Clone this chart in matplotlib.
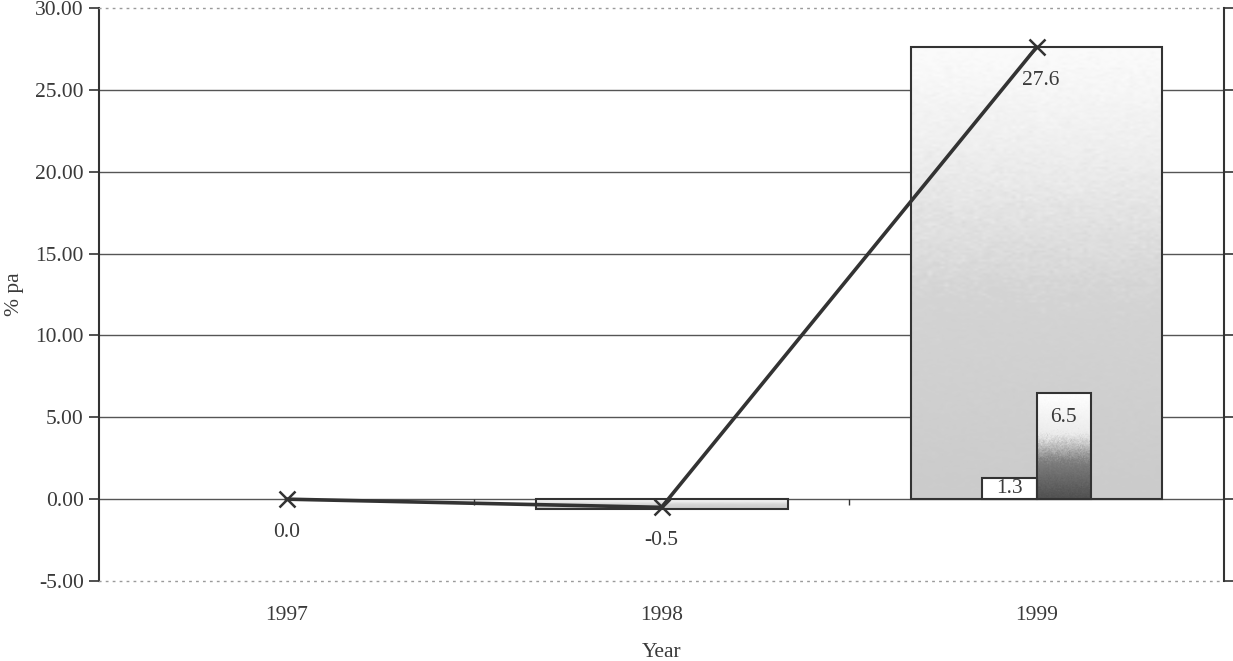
import numpy as np
import matplotlib
matplotlib.use("Agg")
import matplotlib.pyplot as plt
from matplotlib.colors import LinearSegmentedColormap

# ---- data ----
years = ["1997", "1998", "1999"]
total = [0.0, -0.6, 27.6]          # wide shaded bars
comp_a = [0.0, 0.0, 1.3]           # small white bars
comp_b = [0.0, 0.0, 6.5]           # small dark-gradient bars
line_vals = [0.0, -0.5, 27.6]      # line with x markers
line_labels = ["0.0", "-0.5", "27.6"]
yticks = [-5, 0, 5, 10, 15, 20, 25, 30]

plt.rcParams["font.family"] = ["Liberation Serif", "DejaVu Serif"]
FS = 15.5
INK = "#333333"
TXT = "#3a3a3a"

fig = plt.figure(figsize=(12.33, 6.61), dpi=100)
ax = fig.add_axes([0.0803, 0.121, 0.9124, 0.8669])

x = np.arange(len(years))
ax.set_xlim(-0.5, 2.5)
ax.set_ylim(-5, 30)

# grid
for yv in yticks[1:-1]:
    ax.axhline(yv, color="#555555", lw=1.0, zorder=1)

w_big = 0.672
w_small = 0.145

big = ax.bar(x, total, width=w_big, color="none", edgecolor=INK, lw=1.5, zorder=3)
sa = ax.bar(x - w_small / 2, comp_a, width=w_small, color="white", edgecolor=INK, lw=1.5, zorder=5)
sb = ax.bar(x + w_small / 2, comp_b, width=w_small, color="none", edgecolor=INK, lw=1.5, zorder=5)
for group in (big, sa, sb):
    for r in group:
        if abs(r.get_height()) < 1e-9:
            r.set_linewidth(0)

cmap_big = LinearSegmentedColormap.from_list(
    "big", [(0, "#cbcbcb"), (0.45, "#d4d4d4"), (0.75, "#ededed"), (1, "#fbfbfb")])
cmap_small = LinearSegmentedColormap.from_list(
    "small", [(0, "#505050"), (0.35, "#7e7e7e"), (0.6, "#ebebeb"), (1, "#ffffff")])

rng = np.random.default_rng(3)


def fill_gradient(rect, cmap, zorder):
    h = rect.get_height()
    if abs(h) < 1e-9:
        return
    x0, y0 = rect.get_x(), rect.get_y()
    x1, y1 = x0 + rect.get_width(), y0 + h
    grad = np.linspace(0, 1, 200)[:, None] * np.ones((1, 60))
    grad = grad + rng.normal(0, 0.03, grad.shape)  # scanned texture
    lo, hi = min(y0, y1), max(y0, y1)
    im = ax.imshow(grad, cmap=cmap, vmin=0, vmax=1, origin="lower",
                   extent=[x0, x1, lo, hi], aspect="auto", zorder=zorder,
                   interpolation="bilinear")
    im.set_clip_path(rect)


for r in big:
    fill_gradient(r, cmap_big, 2.5)
for r in sb:
    fill_gradient(r, cmap_small, 4.5)

# line series
ax.plot(x, line_vals, color=INK, lw=2.6, marker="x", ms=12, mew=1.8, zorder=6)
for xi, yv, lab in zip(x, line_vals, line_labels):
    ax.annotate(lab, (xi, yv), xytext=(3 if yv > 20 else 0, -24),
                textcoords="offset points", ha="center", va="center",
                fontsize=FS, color=TXT, zorder=7)

# small bar labels
for bars, vals in ((sa, comp_a), (sb, comp_b)):
    for r, v in zip(bars, vals):
        if v > 0:
            cx = r.get_x() + r.get_width() / 2
            ypos = v / 2 if v < 3 else v - 1.5
            ax.text(cx, ypos, f"{v:.1f}", ha="center", va="center",
                    fontsize=FS, color=TXT, zorder=7)

# axes styling
ax.set_yticks(yticks)
ax.set_yticklabels([f"{v:.2f}" for v in yticks], fontsize=FS, color=TXT)
ax.set_xticks(x)
ax.set_xticklabels(years, fontsize=FS, color=TXT)
ax.tick_params(axis="x", length=0, pad=18)
ax.tick_params(axis="y", direction="out", length=7, width=1.2, color=INK, pad=4,
               right=True)

for side in ("left", "right"):
    ax.spines[side].set_color(INK)
    ax.spines[side].set_linewidth(1.5)
for side in ("top", "bottom"):
    ax.spines[side].set_color("#9a9a9a")
    ax.spines[side].set_linewidth(1.0)
    ax.spines[side].set_linestyle((0, (1, 4)))

# category boundary ticks on the zero line
ax.vlines([0.5, 1.5], -0.35, 0, color=INK, lw=1.0, zorder=2)

ax.set_xlabel("Year", fontsize=FS, color=TXT, labelpad=13)
ax.set_ylabel("% pa", fontsize=FS, color=TXT, labelpad=8)

fig.savefig("out.png", dpi=100, facecolor="white")
